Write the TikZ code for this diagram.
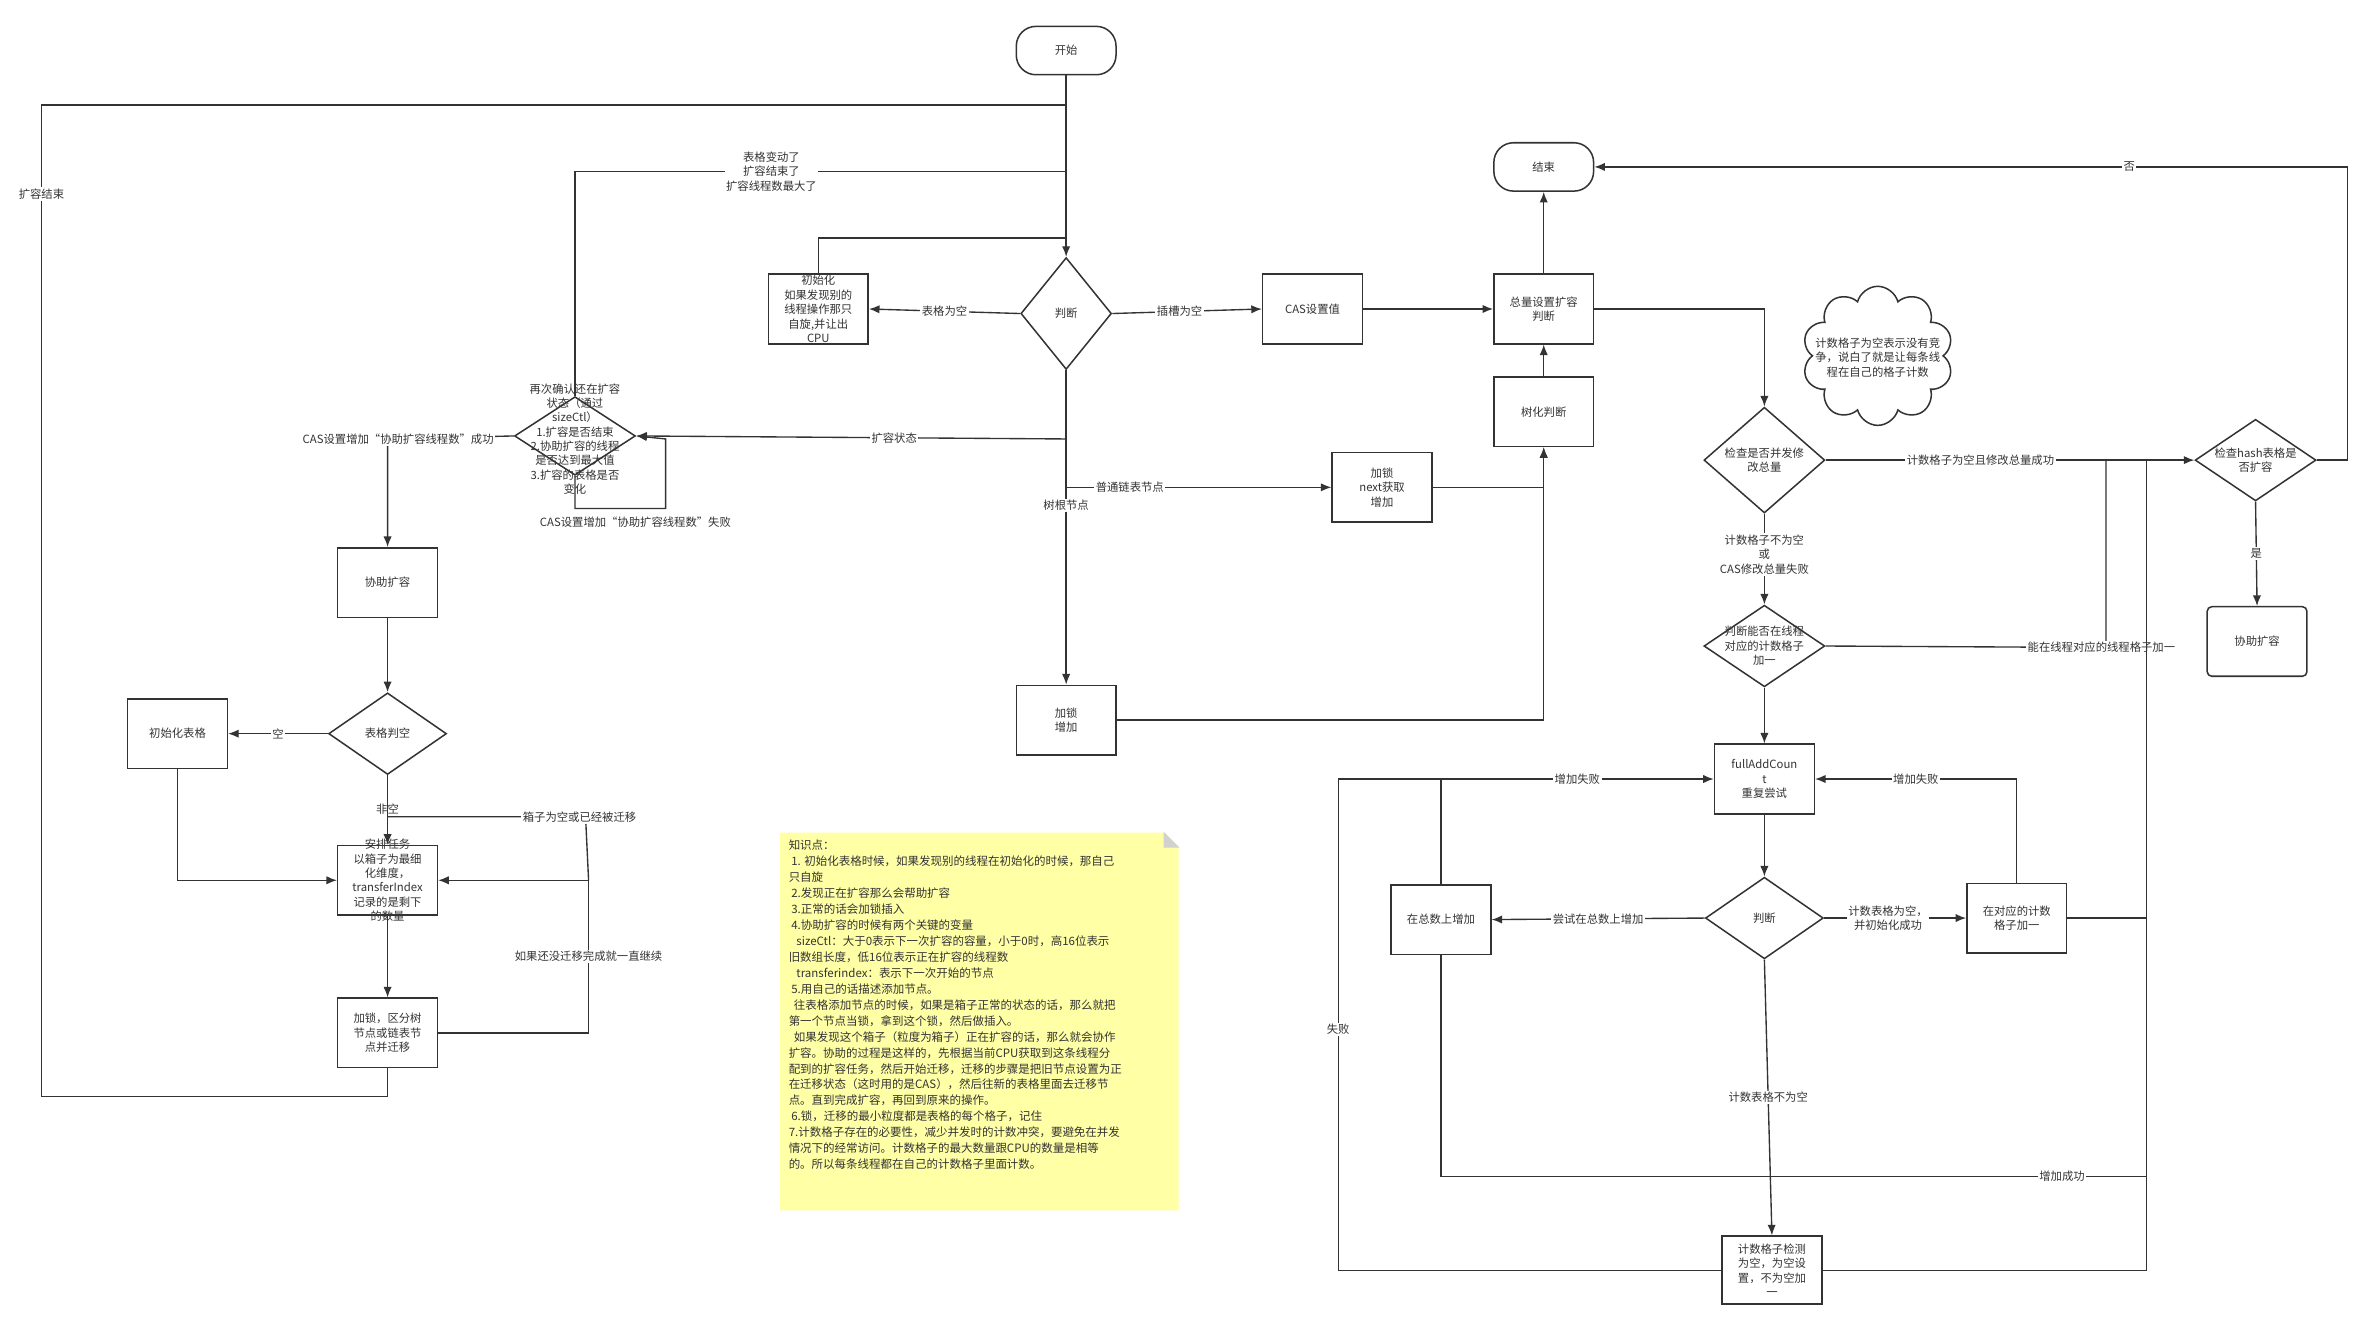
\documentclass[tikz,border=0pt]{standalone}
\usepackage{fontspec}
\setmainfont{Noto Sans CJK SC}
\usetikzlibrary{shapes.geometric,shapes.symbols,arrows.meta}
\definecolor{ln}{HTML}{333333}
\definecolor{note}{HTML}{FFFFA6}
\begin{document}
\begin{tikzpicture}[x=1pt,y=-1pt,
  font=\fontsize{7.5}{9.5}\selectfont,
  every path/.style={draw=ln,line width=0.9pt},
  arr/.style={-{Latex[length=7pt,width=5.5pt]}},
  box/.style={draw=ln,line width=1pt,minimum width=66pt,minimum height=46pt,inner sep=1pt,align=center,text=ln},
  rbox/.style={box,rounded corners=3pt},
  term/.style={draw=ln,line width=1pt,minimum width=66pt,minimum height=32pt,rounded corners=13pt,text=ln},
  dia/.style={draw=ln,line width=1pt,diamond,inner sep=0pt},
  txt/.style={align=center,text=ln,inner sep=0pt},
  lbl/.style={fill=white,inner sep=1pt,align=center,text=ln}]
\useasboundingbox (0,0) rectangle (1560,875);
\fill[white] (0,0) rectangle (1560,875);

% nodes
\node[term] (start) at (705,33) {开始};
\node[term] (end) at (1021,110) {结束};
\node[dia,minimum width=60pt,minimum height=74pt] (judge) at (705,207) {};
\node[txt] at (judge) {判断};
\node[box] (init) at (541,204) {初始化\\如果发现别的\\线程操作那只\\自旋,并让出\\CPU};
\node[box] (cas) at (868,204) {CAS设置值};
\node[box] (total) at (1021,204) {总量设置扩容\\判断};
\node[box] (tree) at (1021,272) {树化判断};
\node[box] (lock1) at (914,322) {加锁\\next获取\\增加};
\node[box] (lock2) at (705,476) {加锁\\增加};

\node[dia,minimum width=80pt,minimum height=52pt] (confirm) at (380,288) {};
\node[txt] at (380,290) {再次确认还在扩容\\状态（通过\\sizeCtl）\\1.扩容是否结束\\2.协助扩容的线程\\是否达到最大值\\3.扩容的表格是否\\变化};

\node[box] (help) at (256,385) {协助扩容};
\node[dia,minimum width=78pt,minimum height=54pt] (empty) at (256,485) {};
\node[txt] at (empty) {表格判空};
\node[box] (inittab) at (117,485) {初始化表格};
\node[box] (task) at (256,582) {};
\node[txt] at (256,582) {安排任务\\以箱子为最细\\化维度，\\transferIndex\\记录的是剩下\\的数量};
\node[box] (migrate) at (256,683) {加锁，区分树\\节点或链表节\\点并迁移};

\node[dia,minimum width=80pt,minimum height=70pt] (check) at (1167,304) {};
\node[txt] at (check) {检查是否并发修\\改总量};
\node[draw=ln,line width=1pt,cloud,cloud puffs=10,aspect=1.1,minimum width=100pt,minimum height=92pt,inner sep=0pt] (cloud) at (1242,235) {};
\node[txt] at (1242,236) {计数格子为空表示没有竞\\争，说白了就是让每条线\\程在自己的格子计数};
\node[dia,minimum width=80pt,minimum height=54pt] (hash) at (1492,304) {};
\node[txt] at (hash) {检查hash表格是\\否扩容};
\node[rbox] (help2) at (1493,424) {协助扩容};
\node[dia,minimum width=80pt,minimum height=54pt] (canadd) at (1167,427) {};
\node[txt] at (canadd) {判断能否在线程\\对应的计数格子\\加一};
\node[box] (full) at (1167,515) {fullAddCoun\\t\\重复尝试};
\node[dia,minimum width=78pt,minimum height=54pt] (judge2) at (1167,607) {};
\node[txt] at (judge2) {判断};
\node[box] (addtotal) at (953,608) {在总数上增加};
\node[box] (addcell) at (1334,607) {在对应的计数\\格子加一};
\node[box,minimum height=45pt] (cellchk) at (1172,840) {计数格子检测\\为空，为空设\\置，不为空加\\一};

% coordinates
\coordinate (jA) at (705,69);
\coordinate (jB) at (705,113);
\coordinate (jC) at (705,157);
\coordinate (jD) at (705,290);
\coordinate (jE) at (705,322);
\coordinate (bus) at (1420,304);
\coordinate (bus2) at (1393,304);

% main spine
\draw[arr] (start.south) -- (judge.north);
\draw[arr] (judge.south) -- node[lbl,pos=0.43]{树根节点} (lock2.north);
\draw[arr] (judge.west) -- node[lbl]{表格为空} (init.east);
\draw (init.north) -- (541,157) -- (jC);
\draw[arr] (judge.east) -- node[lbl,pos=0.45]{插槽为空} (cas.west);
\draw[arr] (cas.east) -- (total.west);
\draw[arr] (total.north) -- (end.south);
\draw[arr] (tree.north) -- (total.south);
\draw[arr] (jE) -- node[lbl,pos=0.24]{普通链表节点} (lock1.west);
\draw[arr] (lock1.east) -| (tree.south);
\draw[arr] (lock2.east) -| (tree.south);

% expansion branch
\draw[arr] (jD) -- node[lbl,pos=0.4]{扩容状态} (confirm.east);
\draw (confirm.north) -- (380,113) -- node[lbl,pos=0.4]{表格变动了\\扩容结束了\\扩容线程数最大了} (jB);
\draw[arr] (confirm.south) -- (380,336) -- (440,336) -- (440,290) -- (confirm.east);
\node[lbl,fill=none] at (420,345) {CAS设置增加“协助扩容线程数”失败};
\draw[arr] (confirm.west) -- (256,290) -- (help.north);
\node[lbl] at (263,290) {CAS设置增加“协助扩容线程数”成功};
\draw[arr] (help.south) -- (empty.north);
\draw[arr] (empty.west) -- node[lbl]{空} (inittab.east);
\draw[arr] (inittab.south) |- (task.west);
\draw[arr] (empty.south) -- (task.north);
\node[lbl,fill=none] at (256,535) {非空};
\draw[arr] (task.south) -- (migrate.north);
\draw[arr] (migrate.east) -- (389,683) -- node[lbl,pos=0.5]{如果还没迁移完成就一直继续} (389,582) -- (task.east);
\draw (389,582) -- (387,540) -- (256,540);
\node[lbl] at (383,540) {箱子为空或已经被迁移};
\draw (migrate.south) -- (256,725) -- (27,725) -- node[lbl,pos=0.91]{扩容结束} (27,69) -- (jA);

% counting branch
\draw[arr] (total.east) -| (check.north);
\draw[arr] (check.east) -- node[lbl,pos=0.42]{计数格子为空且修改总量成功} (hash.west);
\draw[arr] (hash.east) -- (1553,304) -- (1553,110) -- node[lbl,pos=0.29]{否} (end.east);
\draw[arr] (hash.south) -- node[lbl]{是} (help2.north);
\draw[arr] (check.south) -- node[lbl,pos=0.45]{计数格子不为空\\或\\CAS修改总量失败} (canadd.north);
\draw (canadd.east) -- (1393,428) -- (bus2);
\node[lbl] at (1390,428) {能在线程对应的线程格子加一};
\draw[arr] (canadd.south) -- (full.north);
\draw[arr] (full.south) -- (judge2.north);
\draw[arr] (judge2.west) -- node[lbl]{尝试在总数上增加} (addtotal.east);
\draw[arr] (judge2.east) -- node[lbl,pos=0.45]{计数表格为空，\\并初始化成功} (addcell.west);
\draw[arr] (addcell.north) |- node[lbl,pos=0.75]{增加失败} (full.east);
\draw[arr] (addtotal.north) |- node[lbl,pos=0.75]{增加失败} (full.west);
\draw (cellchk.west) -- (885,840) -- node[lbl,pos=0.49]{失败} (885,515) -- (953,515);
\draw (addtotal.south) -- (953,778) -- node[lbl,pos=0.88]{增加成功} (1420,778);
\draw[arr] (judge2.south) -- node[lbl,pos=0.5]{计数表格不为空} (cellchk.north);
\draw (addcell.east) -- (1420,607);
\draw (cellchk.east) -- (1420,840) -- (bus);

% sticky note
\fill[note] (516,551) -- (770,551) -- (779,560) -- (779,800) -- (516,800) -- cycle;
\fill[black!18] (770,551) -- (779,560) -- (770,560) -- cycle;
\node[anchor=north west,align=left,inner sep=0pt,text=ln,font=\fontsize{7.6}{10.55}\selectfont] at (521,555) {知识点：\\
\ 1. 初始化表格时候，如果发现别的线程在初始化的时候，那自己\\
只自旋\\
\ 2.发现正在扩容那么会帮助扩容\\
\ 3.正常的话会加锁插入\\
\ 4.协助扩容的时候有两个关键的变量\\
\ \ \ sizeCtl：大于0表示下一次扩容的容量，小于0时，高16位表示\\
旧数组长度，低16位表示正在扩容的线程数\\
\ \ \ transferindex：表示下一次开始的节点\\
\ 5.用自己的话描述添加节点。\\
\ \ 往表格添加节点的时候，如果是箱子正常的状态的话，那么就把\\
第一个节点当锁，拿到这个锁，然后做插入。\\
\ \ 如果发现这个箱子（粒度为箱子）正在扩容的话，那么就会协作\\
扩容。协助的过程是这样的，先根据当前CPU获取到这条线程分\\
配到的扩容任务，然后开始迁移，迁移的步骤是把旧节点设置为正\\
在迁移状态（这时用的是CAS），然后往新的表格里面去迁移节\\
点。直到完成扩容，再回到原来的操作。\\
\ 6.锁，迁移的最小粒度都是表格的每个格子，记住\\
7.计数格子存在的必要性，减少并发时的计数冲突，要避免在并发\\
情况下的经常访问。计数格子的最大数量跟CPU的数量是相等\\
的。所以每条线程都在自己的计数格子里面计数。};
\end{tikzpicture}
\end{document}
